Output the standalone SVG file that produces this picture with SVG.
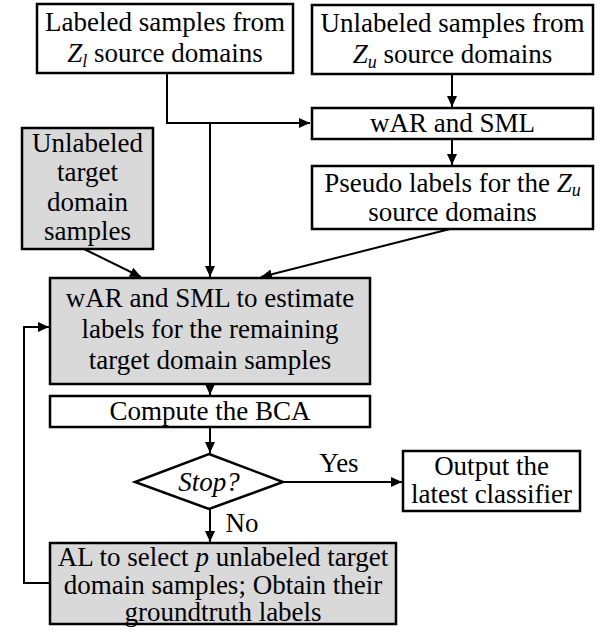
<svg xmlns="http://www.w3.org/2000/svg" width="605" height="637" viewBox="0 0 605 637">
<style>
.box{fill:#fff;stroke:#000;stroke-width:2.5}
.gray{fill:#d9d9d9;stroke:#000;stroke-width:2.5}
.t text{font-size:27px;fill:#000;text-anchor:middle}
.it{font-style:italic}
.sub{font-style:italic;font-size:18px}
.ln{fill:none;stroke:#000;stroke-width:2}
</style>
<defs>
<marker id="ah" markerUnits="userSpaceOnUse" markerWidth="12" markerHeight="10" refX="11" refY="5" orient="auto">
<path d="M0,0 L11,5 L0,10 Z" fill="#000"/>
</marker>
</defs>
<rect width="605" height="637" fill="#fff"/>
<g class="t" font-family="Liberation Serif, DejaVu Serif, Times New Roman, serif">
<g id="connectors">
<polyline class="ln" points="167,73 167,123 310,123" marker-end="url(#ah)"/>
<line class="ln" x1="452" y1="74" x2="452" y2="107" marker-end="url(#ah)"/>
<line class="ln" x1="452" y1="139" x2="452" y2="165" marker-end="url(#ah)"/>
<line class="ln" x1="210" y1="123" x2="210" y2="277" marker-end="url(#ah)"/>
<line class="ln" x1="84" y1="249" x2="141" y2="277" marker-end="url(#ah)"/>
<line class="ln" x1="450" y1="229" x2="261" y2="277" marker-end="url(#ah)"/>
<line class="ln" x1="210" y1="384" x2="210" y2="395" marker-end="url(#ah)"/>
<line class="ln" x1="210" y1="427" x2="210" y2="453" marker-end="url(#ah)"/>
<line class="ln" x1="283" y1="482" x2="402" y2="482" marker-end="url(#ah)"/>
<line class="ln" x1="210" y1="509" x2="210" y2="542" marker-end="url(#ah)"/>
<polyline class="ln" points="50,583 24,583 24,327 49,327" marker-end="url(#ah)"/>
<text x="339" y="472">Yes</text>
<text x="242" y="532">No</text>
</g>
<g id="n1">
<rect class="box" x="37" y="4" width="256" height="69"/>
<text x="165" y="31">Labeled samples from</text>
<text x="165" y="62"><tspan class="it">Z</tspan><tspan class="sub" dy="5">l</tspan><tspan dy="-5"> source domains</tspan></text>
</g>
<g id="n2">
<rect class="box" x="312" y="5" width="281" height="69"/>
<text x="452.5" y="32">Unlabeled samples from</text>
<text x="452.5" y="63"><tspan class="it">Z</tspan><tspan class="sub" dy="5">u</tspan><tspan dy="-5"> source domains</tspan></text>
</g>
<g id="n3">
<rect class="box" x="312" y="108" width="281" height="31"/>
<text x="452.5" y="132">wAR and SML</text>
</g>
<g id="n4">
<rect class="box" x="312" y="166" width="281" height="63"/>
<text x="452.5" y="192">Pseudo labels for the <tspan class="it">Z</tspan><tspan class="sub" dy="4">u</tspan></text>
<text x="452.5" y="221">source domains</text>
</g>
<g id="n5">
<rect class="gray" x="22" y="128" width="131" height="121"/>
<text x="87.5" y="152">Unlabeled</text>
<text x="87.5" y="181">target</text>
<text x="87.5" y="211">domain</text>
<text x="87.5" y="240">samples</text>
</g>
<g id="n6">
<rect class="gray" x="50" y="278" width="320" height="106"/>
<text x="210" y="307">wAR and SML to estimate</text>
<text x="210" y="338">labels for the remaining</text>
<text x="210" y="369">target domain samples</text>
</g>
<g id="n7">
<rect class="box" x="50" y="396" width="320" height="31"/>
<text x="210" y="420">Compute the BCA</text>
</g>
<g id="n8">
<polygon class="box" points="209,454 283,482 209,509 135,482"/>
<text x="209" y="491" class="it">Stop?</text>
</g>
<g id="n9">
<rect class="box" x="403" y="451" width="177" height="60"/>
<text x="491.5" y="475">Output the</text>
<text x="491.5" y="503">latest classifier</text>
</g>
<g id="n10">
<rect class="gray" x="50" y="543" width="346" height="81"/>
<text x="223" y="566">AL to select <tspan class="it">p</tspan> unlabeled target</text>
<text x="223" y="594">domain samples; Obtain their</text>
<text x="223" y="621">groundtruth labels</text>
</g>
</g>
</svg>
